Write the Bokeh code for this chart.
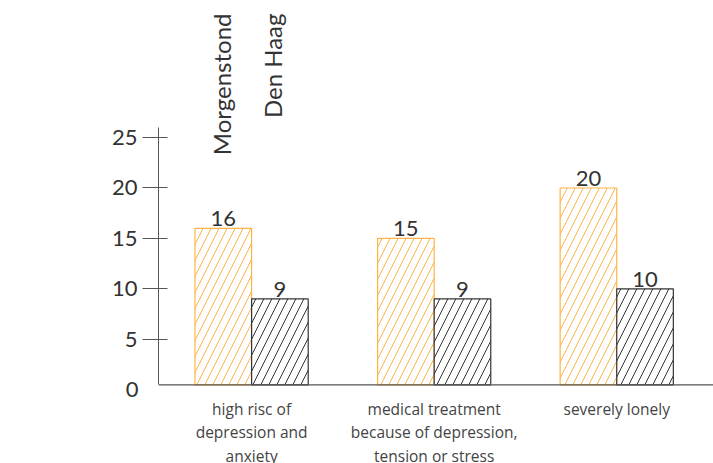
from bokeh.plotting import figure
from bokeh.models import (ColumnDataSource, Label, FixedTicker, Range1d, LabelSet,
                          LinearAxis, Span)
from bokeh.core.properties import value
from bokeh.embed import file_html
from bokeh.resources import INLINE
import math

categories = ["high risc of\ndepression and\nanxiety",
              "medical treatment\nbecause of depression,\ntension or stress",
              "severely lonely"]
series_names = ["Morgenstond", "Den Haag"]
morgenstond = [16, 15, 20]
den_haag = [9, 9, 10]
y_ticks = [5, 10, 15, 20, 25]

ORANGE = "#FFB347"
DARK = "#333333"
AXIS = "#555555"
FONT = "Lato"
CAT_FONT = "Open Sans"
BASE = 0.48      # where the baseline sits (value)
Y_TOP = 26.02    # top of the y axis line

p = figure(width=713, height=463, output_backend="svg", toolbar_location=None,
           x_range=Range1d(-0.51, 2.53), y_range=Range1d(-7.32, 38.59),
           x_axis_location=None,
           min_border_left=158, min_border_top=0, min_border_bottom=0, min_border_right=0)
p.outline_line_color = None
p.xgrid.visible = False
p.ygrid.visible = False

idx = list(range(len(categories)))
w = 0.31
src_a = ColumnDataSource(dict(x=[i - w / 2 for i in idx], top=morgenstond,
                              lab=[str(v) for v in morgenstond]))
src_b = ColumnDataSource(dict(x=[i + w / 2 for i in idx], top=den_haag,
                              lab=[str(v) for v in den_haag]))

p.vbar(x="x", top="top", bottom=BASE, width=w, source=src_a, fill_color="white",
       line_color=ORANGE, line_width=1.2, hatch_pattern="/", hatch_color=ORANGE,
       hatch_scale=16, hatch_weight=1)
p.vbar(x="x", top="top", bottom=BASE, width=w, source=src_b, fill_color="white",
       line_color=DARK, line_width=1.2, hatch_pattern="/", hatch_color=DARK,
       hatch_scale=16, hatch_weight=1)

# x baseline
p.add_layout(Span(location=BASE, dimension="width", line_color=AXIS, line_width=1.2))

for src in (src_a, src_b):
    p.add_layout(LabelSet(x="x", y="top", text="lab", source=src, y_offset=2,
                          text_align="center", text_baseline="bottom",
                          text_font=value(FONT), text_font_size=value("22px"),
                          text_color=DARK))

# y axis
ya = p.yaxis[0]
ya.ticker = FixedTicker(ticks=y_ticks)
ya.bounds = (BASE, Y_TOP)
ya.major_tick_out = 16
ya.major_tick_in = 9
ya.minor_tick_line_color = None
ya.axis_line_color = AXIS
ya.major_tick_line_color = AXIS
ya.major_label_text_font = FONT
ya.major_label_text_font_size = "22px"
ya.major_label_text_color = DARK
ya.major_label_standoff = 5

# the "0" label, without tick mark
zero_axis = LinearAxis(ticker=FixedTicker(ticks=[0]), axis_line_color=None,
                       major_tick_line_color=None, minor_tick_line_color=None,
                       major_tick_out=0, major_tick_in=0,
                       major_label_standoff=-30,
                       major_label_text_font=FONT, major_label_text_font_size="22px",
                       major_label_text_color=DARK)
p.add_layout(zero_axis, "left")

# category labels below the baseline
line_x, line_off, line_t = [], [], []
for i, c in zip(idx, categories):
    for k, t in enumerate(c.split("\n")):
        line_x.append(i)
        line_off.append(-24 - 23.5 * k)
        line_t.append(t)
cat_src = ColumnDataSource(dict(x=line_x, off=line_off, t=line_t))
p.add_layout(LabelSet(x="x", y=BASE, y_offset="off", text="t", source=cat_src,
                      text_align="center", text_baseline="middle",
                      text_font=value(CAT_FONT), text_font_size=value("15.5px"),
                      text_color="#444444"))

# series labels (rotated legend)
for name, xs in zip(series_names, [-0.165, 0.115]):
    p.add_layout(Label(x=xs, y=38.59, y_offset=-13, text=name,
                       angle=math.pi / 2, text_align="right", text_baseline="middle",
                       text_font=FONT, text_font_size="24px", text_color=DARK))

open("out.html", "w").write(file_html(p, INLINE))
